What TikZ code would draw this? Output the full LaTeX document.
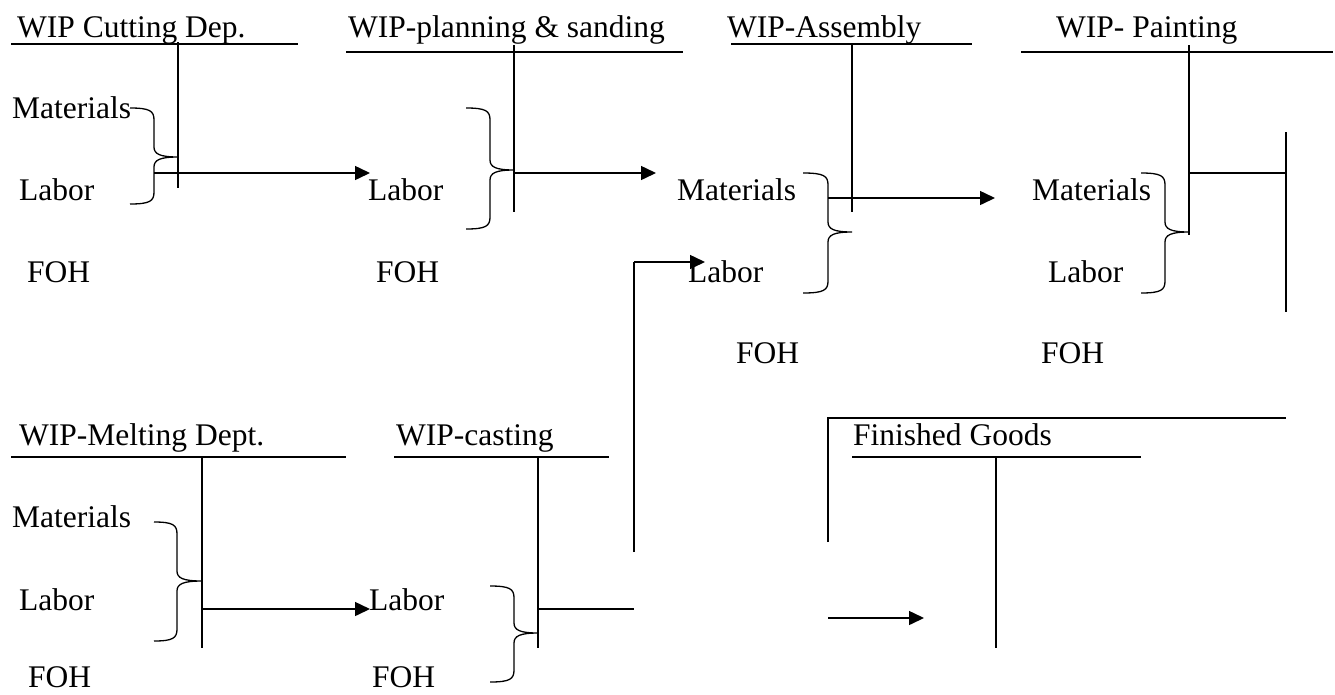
\documentclass[tikz,border=0pt]{standalone}
\usepackage{fontspec}
\setmainfont{Liberation Serif}
\usetikzlibrary{arrows.meta}
% #1 x of open ends, #2 x of spine, #3 x of tip, #4 y top, #5 y tip, #6 y bottom
\newcommand{\wbrace}[6]{%
  \draw[ln] (#1,#4) .. controls (#2-4,#4) and (#2,#4+3) .. (#2,#4+12)
    -- (#2,#5-10) .. controls (#2,#5-3) and (#2+6,#5) .. (#3,#5)
    .. controls (#2+6,#5) and (#2,#5+3) .. (#2,#5+10)
    -- (#2,#6-12) .. controls (#2,#6-3) and (#2-4,#6) .. (#1,#6);}
\begin{document}
\begin{tikzpicture}[x=1pt,y=-1pt,
  ln/.style={line width=1.3pt},
  ul/.style={line width=1.7pt},
  arr/.style={line width=1.5pt,-{Triangle[length=15pt,width=14pt]}},
  lbl/.style={anchor=base west,inner sep=0pt,font=\fontsize{31.5}{36}\selectfont}]
\useasboundingbox (0,0) rectangle (1335,694);

% ---------- WIP Cutting Dep.
\node[lbl] (hcut) at (17,37) {WIP Cutting Dep.};
\draw[ul] (11,44) -- (298,44);
\draw[ln] (178,42) -- (178,188);
\node[lbl] (m1) at (12,118) {Materials};
\node[lbl] (l1) at (19,200) {Labor};
\node[lbl] (f1) at (27,282) {FOH};
\wbrace{130}{154}{178}{108}{157}{204}
\coordinate (a1s) at (154,173); \coordinate (a1e) at (370,173);
\draw[arr] (a1s) -- (a1e);

% ---------- WIP-planning & sanding
\node[lbl] (hplan) at (348,37) {WIP-planning \& sanding};
\draw[ul] (346,52) -- (683,52);
\draw[ln] (514,45) -- (514,212);
\node[lbl] (l2) at (368,200) {Labor};
\node[lbl] (f2) at (376,282) {FOH};
\wbrace{466}{490}{514}{108}{170}{229}
\coordinate (a2s) at (514,173); \coordinate (a2e) at (656,173);
\draw[arr] (a2s) -- (a2e);

% ---------- WIP-Assembly
\node[lbl] (hasm) at (727,37) {WIP-Assembly};
\draw[ul] (731,44) -- (972,44);
\draw[ln] (852,44) -- (852,212);
\node[lbl] (m3) at (677,200) {Materials};
\node[lbl] (l3) at (688,282) {Labor};
\node[lbl] (f3) at (736,363) {FOH};
\wbrace{803}{828}{852}{173}{232}{293}
\coordinate (a3s) at (828,198); \coordinate (a3e) at (995,198);
\draw[arr] (a3s) -- (a3e);

% ---------- WIP- Painting
\node[lbl] (hpaint) at (1056,37) {WIP- Painting};
\draw[ul] (1021,52) -- (1333,52);
\draw[ln] (1189,45) -- (1189,235);
\node[lbl] (m4) at (1032,200) {Materials};
\node[lbl] (l4) at (1048,282) {Labor};
\node[lbl] (f4) at (1041,363) {FOH};
\wbrace{1141}{1165}{1189}{173}{232}{293}
\coordinate (p1) at (1189,173); \coordinate (p2) at (1286,173);
\draw[ln] (p1) -- (p2);
\draw[ln] (1286,132) -- (1286,312);

% ---------- WIP-Melting Dept.
\node[lbl] (hmelt) at (19,445) {WIP-Melting Dept.};
\draw[ul] (11,457) -- (346,457);
\draw[ln] (202,457) -- (202,648);
\node[lbl] (m5) at (12,527) {Materials};
\node[lbl] (l5) at (19,610) {Labor};
\node[lbl] (f5) at (28,687) {FOH};
\wbrace{154}{177}{202}{522}{581}{641}
\coordinate (a5s) at (202,609); \coordinate (a5e) at (370,609);
\draw[arr] (a5s) -- (a5e);

% ---------- WIP-casting
\node[lbl] (hcast) at (396,445) {WIP-casting};
\draw[ul] (394,457) -- (609,457);
\draw[ln] (538,457) -- (538,648);
\node[lbl] (l6) at (369,610) {Labor};
\node[lbl] (f6) at (372,687) {FOH};
\wbrace{490}{514}{538}{586}{633}{682}
\coordinate (c1) at (538,609); \coordinate (c2) at (634,609);
\draw[ln] (c1) -- (c2);
\coordinate (c3) at (634,552); \coordinate (c4) at (634,262); \coordinate (c5) at (705,262);
\draw[ln] (c3) -- (c4);
\draw[arr] (c4) -- (c5);

% ---------- Finished Goods
\coordinate (g1) at (828,542); \coordinate (g2) at (828,418); \coordinate (g3) at (1286,418);
\draw[ln] (g1) -- (g2) -- (g3);
\node[lbl] (hfg) at (853,445) {Finished Goods};
\draw[ul] (852,457) -- (1141,457);
\draw[ln] (996,457) -- (996,648);
\coordinate (a7s) at (828,618); \coordinate (a7e) at (924,618);
\draw[arr] (a7s) -- (a7e);
\end{tikzpicture}
\end{document}
